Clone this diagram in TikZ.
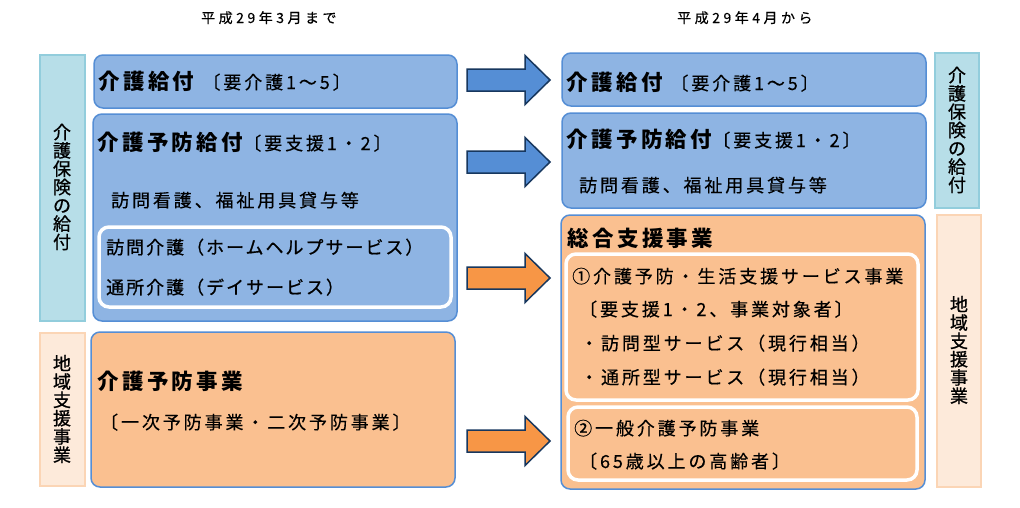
\documentclass[tikz,border=0pt]{standalone}
\usepackage{fontspec}
\setmainfont{Noto Sans CJK JP}
\newfontfamily\jr[LetterSpace=16,FakeBold=0.4]{Noto Sans CJK JP}
\newfontfamily\ji[LetterSpace=11,FakeBold=0.8]{Noto Sans CJK JP}
\newfontfamily\jb[LetterSpace=16]{Noto Sans CJK JP}
\newfontfamily\jh[LetterSpace=25,FakeBold=0.4]{Noto Sans CJK JP}
\newfontfamily\jv[FakeBold=0.9]{Noto Sans CJK JP}
\newcommand\HB[1]{{\fontsize{21.5}{24}\selectfont\jb\bfseries #1}}
\newcommand\RG[1]{{\fontsize{18}{22}\selectfont\jr #1}}
\newcommand\IN[1]{{\fontsize{18}{22}\selectfont\ji #1}}
\definecolor{bluefill}{HTML}{8EB4E3}
\definecolor{boxline}{HTML}{558ED5}
\definecolor{orangefill}{HTML}{FAC090}
\definecolor{sideblue}{HTML}{B7DEE8}
\definecolor{sideblueline}{HTML}{92CDDC}
\definecolor{sidepeach}{HTML}{FDEADA}
\definecolor{sidepeachline}{HTML}{FBD5B5}
\definecolor{arrblue}{HTML}{558ED5}
\definecolor{arrorange}{HTML}{F79646}
\definecolor{arrline}{HTML}{17375E}
\tikzset{
  bluebox/.style={draw=boxline, fill=bluefill, line width=1.5, rounded corners=9},
  orangebox/.style={draw=boxline, fill=orangefill, line width=1.5, rounded corners=9},
  innerbox/.style={draw=white, line width=3.5, rounded corners=10},
  sidebl/.style={draw=sideblueline, fill=sideblue, line width=1.5},
  sidepe/.style={draw=sidepeachline, fill=sidepeach, line width=1.5},
  arrb/.style={draw=arrline, fill=arrblue, line width=1.5, line join=miter},
  arro/.style={draw=arrline, fill=arrorange, line width=1.5, line join=miter},
  txt/.style={inner sep=0, anchor=base west},
  vtxt/.style={inner sep=0, align=center, font=\fontsize{18}{18.3}\selectfont\jv},
}
\newcommand\blockarrow[2]{%
  \path[#1] (467,#2-11) -- (525,#2-11) -- (525,#2-24.5) -- (550,#2) -- (525,#2+24.5) -- (525,#2+11) -- (467,#2+11) -- cycle;}
\begin{document}
\begin{tikzpicture}[x=1pt,y=-1pt]
\useasboundingbox[fill=white] (0,0) rectangle (1020,507);
% headers
\node[txt] (h1) at (201,23) {\fontsize{14}{16}\selectfont\jh 平成29年3月まで};
\node[txt] (h2) at (677,23) {\fontsize{14}{16}\selectfont\jh 平成29年4月から};
% left side bars
\path[sidebl] (40,55) rectangle (85,321);
\path[sidepe] (40,333) rectangle (85,486);
\node[vtxt] (lv1) at (62,187) {介\\護\\保\\険\\の\\給\\付};
\node[vtxt] (lv2) at (62,409) {地\\域\\支\\援\\事\\業};
% right side bars
\path[sidebl] (935,53) rectangle (979,208);
\path[sidepe] (937,215) rectangle (981,487);
\node[vtxt] (rv1) at (957,130) {介\\護\\保\\険\\の\\給\\付};
\node[vtxt] (rv2) at (959,350) {地\\域\\支\\援\\事\\業};
% left boxes
\path[bluebox] (94,55) rectangle (457,108);
\path[bluebox] (93,114) rectangle (457,321);
\path[innerbox] (99,227) rectangle (451,307);
\path[orangebox] (91,332) rectangle (455,487);
% right boxes
\path[bluebox] (562,53) rectangle (926,106);
\path[bluebox] (562,113) rectangle (926,208);
\path[orangebox] (561,215) rectangle (925,489);
\path[innerbox] (566,254) rectangle (918,400);
\path[innerbox] (568,407) rectangle (917,480);
% arrows
\blockarrow{arrb}{80}
\blockarrow{arrb}{162}
\blockarrow{arro}{278}
\blockarrow{arro}{441}
% left texts
\node[txt] (l1) at (98,89) {\HB{介護給付}\hspace{8pt}\RG{〔要介護1～5〕}};
\node[txt] (l2) at (97,150) {\HB{介護予防給付}\RG{〔要支援1・2〕}};
\node[txt] (l3) at (111,207) {\RG{訪問看護、福祉用具貸与等}};
\node[txt] (l4) at (106,254) {\IN{訪問介護（ホームヘルプサービス）}};
\node[txt] (l5) at (106,294) {\IN{通所介護（デイサービス）}};
\node[txt] (l6) at (97,389) {\HB{介護予防事業}};
\node[txt] (l7) at (100,429) {\RG{〔一次予防事業・二次予防事業〕}};
% right texts
\node[txt] (r1) at (566,90) {\HB{介護給付}\hspace{8pt}\RG{〔要介護1～5〕}};
\node[txt] (r2) at (566,147) {\HB{介護予防給付}\RG{〔要支援1・2〕}};
\node[txt] (r3) at (579,192) {\RG{訪問看護、福祉用具貸与等}};
\node[txt] (r4) at (567,246) {\HB{総合支援事業}};
\node[txt] (r5) at (572,283) {\RG{①介護予防・生活支援サービス事業}};
\node[txt] (r6) at (579,316) {\RG{〔要支援1・2、事業対象者〕}};
\node[txt] (r7) at (580,350) {\RG{・訪問型サービス（現行相当）}};
\node[txt] (r8) at (580,384) {\RG{・通所型サービス（現行相当）}};
\node[txt] (r9) at (574,435) {\RG{②一般介護予防事業}};
\node[txt] (r10) at (579,468) {\RG{〔65歳以上の高齢者〕}};
\end{tikzpicture}
\end{document}
